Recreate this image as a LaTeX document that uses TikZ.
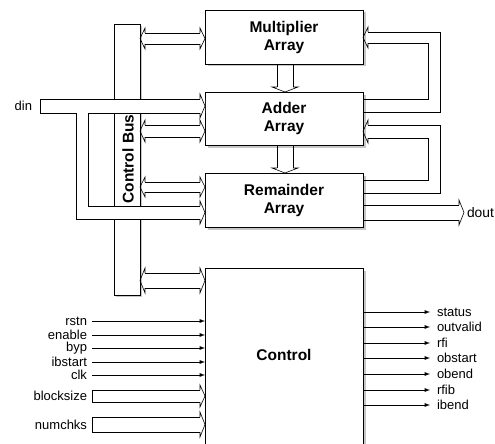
\documentclass[tikz,border=0pt]{standalone}
\usepackage{fontspec}
\setmainfont{Liberation Sans}
\usetikzlibrary{calc,shadows}

\tikzset{
    bushead/.pic={
        \draw[line width=0.6pt] (-5,{-(#1)}) -- (-5,{-(#1)-5}) -- (0,0) -- (-5,{(#1)+5}) -- (-5,{#1});
    }
}

% bus from the control bus to the west side of a box
\newcommand{\ctlbus}[3]{%
    \pgfmathsetmacro{\bushalf}{(#3-#2)/2}
    \draw ($(cbus.east|-0,#2)+(5,0)$) -- ($(#1.west|-0,#2)+(-5,0)$)
          ($(cbus.east|-0,#3)+(5,0)$) -- ($(#1.west|-0,#3)+(-5,0)$);
    \pic[rotate=180] at ($(cbus.east|-0,#2)!0.5!(cbus.east|-0,#3)$) {bushead=\bushalf};
    \pic at ($(#1.west|-0,#2)!0.5!(#1.west|-0,#3)$) {bushead=\bushalf};
}

\begin{document}
\begin{tikzpicture}[
      x=1pt, y=-1pt,
      line width=0.9pt,
      >=latex,
      box/.style={
          rectangle, draw, fill=white,
          minimum width=158pt, minimum height=54pt,
          inner sep=0pt, outer sep=0pt, align=center,
          font=\bfseries\fontsize{15.5}{18}\selectfont,
          drop shadow={shadow xshift=2.5pt, shadow yshift=-2.5pt, fill=black!22, opacity=1}
      },
      busbox/.style={
          rectangle, draw, fill=white,
          minimum width=26pt, minimum height=271pt,
          inner sep=0pt, outer sep=0pt,
          drop shadow={shadow xshift=2pt, shadow yshift=-2pt, fill=black!22, opacity=1}
      },
      inlabel/.style={
          anchor=east, inner xsep=5pt, inner ysep=0pt, outer sep=0pt,
          font=\fontsize{13}{13}\selectfont
      },
      outlabel/.style={
          anchor=west, inner xsep=7pt, inner ysep=0pt, outer sep=0pt,
          font=\fontsize{13}{13}\selectfont
      }
  ]
    \useasboundingbox (0,0) rectangle (495,444);

    % Control bus
    \node[busbox] (cbus) at (127,159.5) {};

    % Array blocks and control block
    \node[box] (mult) at (284,37) {Multiplier\\Array};
    \node[box, minimum height=53pt] (adder) at (284,118.5) {Adder\\Array};
    \node[box] (rem) at (284,200) {Remainder\\Array};
    \node[box, minimum height=180pt, text depth=6pt] (ctrl) at (284,358) {Control};

    % din bus (cuts through the control bus)
    \node[inlabel, inner xsep=8pt] (din) at (40,106) {din};
    \fill[white] (din.east|-0,99) -- (adder.west|-0,99) -- (adder.west|-0,113) -- (88,113)
        -- (88,206) -- (rem.west|-0,206) -- (rem.west|-0,219) -- (76,219) -- (76,113)
        -- (din.east|-0,113) -- cycle;
    \draw ($(adder.west|-0,99)+(-5,0)$) -- (din.east|-0,99) -- (din.east|-0,113) -- (76,113)
        -- (76,219) -- ($(rem.west|-0,219)+(-5,0)$);
    \draw ($(adder.west|-0,113)+(-5,0)$) -- (88,113) -- (88,206) -- ($(rem.west|-0,206)+(-5,0)$);
    \pic at (adder.west|-0,106) {bushead=7};
    \pic at (rem.west|-0,212.5) {bushead=6.5};

    \node[rotate=90, font=\bfseries\fontsize{15.5}{18}\selectfont] (cbustext) at (128,159) {Control Bus};

    % Control bus taps
    \ctlbus{mult}{33}{44}
    \ctlbus{adder}{125}{137}
    \ctlbus{rem}{182}{192}
    \ctlbus{ctrl}{273}{288}

    % Multiplier -> Adder -> Remainder
    \draw (mult.south-|277,0) -- ($(adder.north-|277,0)+(0,-5)$)
          (mult.south-|293,0) -- ($(adder.north-|293,0)+(0,-5)$);
    \pic[rotate=-90] at (adder.north-|285,0) {bushead=8};
    \draw (adder.south-|277,0) -- ($(rem.north-|277,0)+(0,-5)$)
          (adder.south-|293,0) -- ($(rem.north-|293,0)+(0,-5)$);
    \pic[rotate=-90] at (rem.north-|285,0) {bushead=8};

    % Feedback Adder -> Multiplier
    \draw (adder.east|-0,99) -- (428,99) -- (428,43) -- ($(mult.east|-0,43)+(5,0)$);
    \draw (adder.east|-0,112) -- (440,112) -- (440,32) -- ($(mult.east|-0,32)+(5,0)$);
    \pic[rotate=180] at (mult.east|-0,37.5) {bushead=5.5};

    % Feedback Remainder -> Adder
    \draw (rem.east|-0,180) -- (428,180) -- (428,138) -- ($(adder.east|-0,138)+(5,0)$);
    \draw (rem.east|-0,193) -- (440,193) -- (440,125) -- ($(adder.east|-0,125)+(5,0)$);
    \pic[rotate=180] at (adder.east|-0,131.5) {bushead=6.5};

    % dout
    \node[outlabel, inner xsep=3pt, font=\fontsize{13.8}{14}\selectfont] (dout) at (464,212.5) {dout};
    \draw (rem.east|-0,205) -- ($(dout.west|-0,205)+(-5,0)$)
          (rem.east|-0,220) -- ($(dout.west|-0,220)+(-5,0)$);
    \pic at (dout.west|-0,212.5) {bushead=7.5};

    % Control inputs
    \foreach \nm/\yy in {rstn/321, enable/335, byp/348, ibstart/362, clk/375} {
        \node[inlabel] (\nm) at (92,\yy) {\nm};
        \draw[->] (\nm) -- (ctrl.west|-\nm);
    }
    \node[inlabel] (blocksize) at (92,396) {blocksize};
    \draw ($(ctrl.west|-0,390)+(-5,0)$) -- (blocksize.east|-0,390) -- (blocksize.east|-0,402)
        -- ($(ctrl.west|-0,402)+(-5,0)$);
    \pic at (ctrl.west|-0,396) {bushead=6};
    \node[inlabel] (numchks) at (92,424.5) {numchks};
    \draw ($(ctrl.west|-0,417)+(-5,0)$) -- (numchks.east|-0,417) -- (numchks.east|-0,432)
        -- ($(ctrl.west|-0,432)+(-5,0)$);
    \pic at (ctrl.west|-0,424.5) {bushead=7.5};

    % Control outputs
    \foreach \nm/\yy in {status/312, outvalid/327, rfi/343, obstart/358, obend/374, rfib/390, ibend/405} {
        \node[outlabel] (\nm) at (430,\yy) {\nm};
        \draw[->] (ctrl.east|-\nm) -- (\nm);
    }
  \end{tikzpicture}
\end{document}
